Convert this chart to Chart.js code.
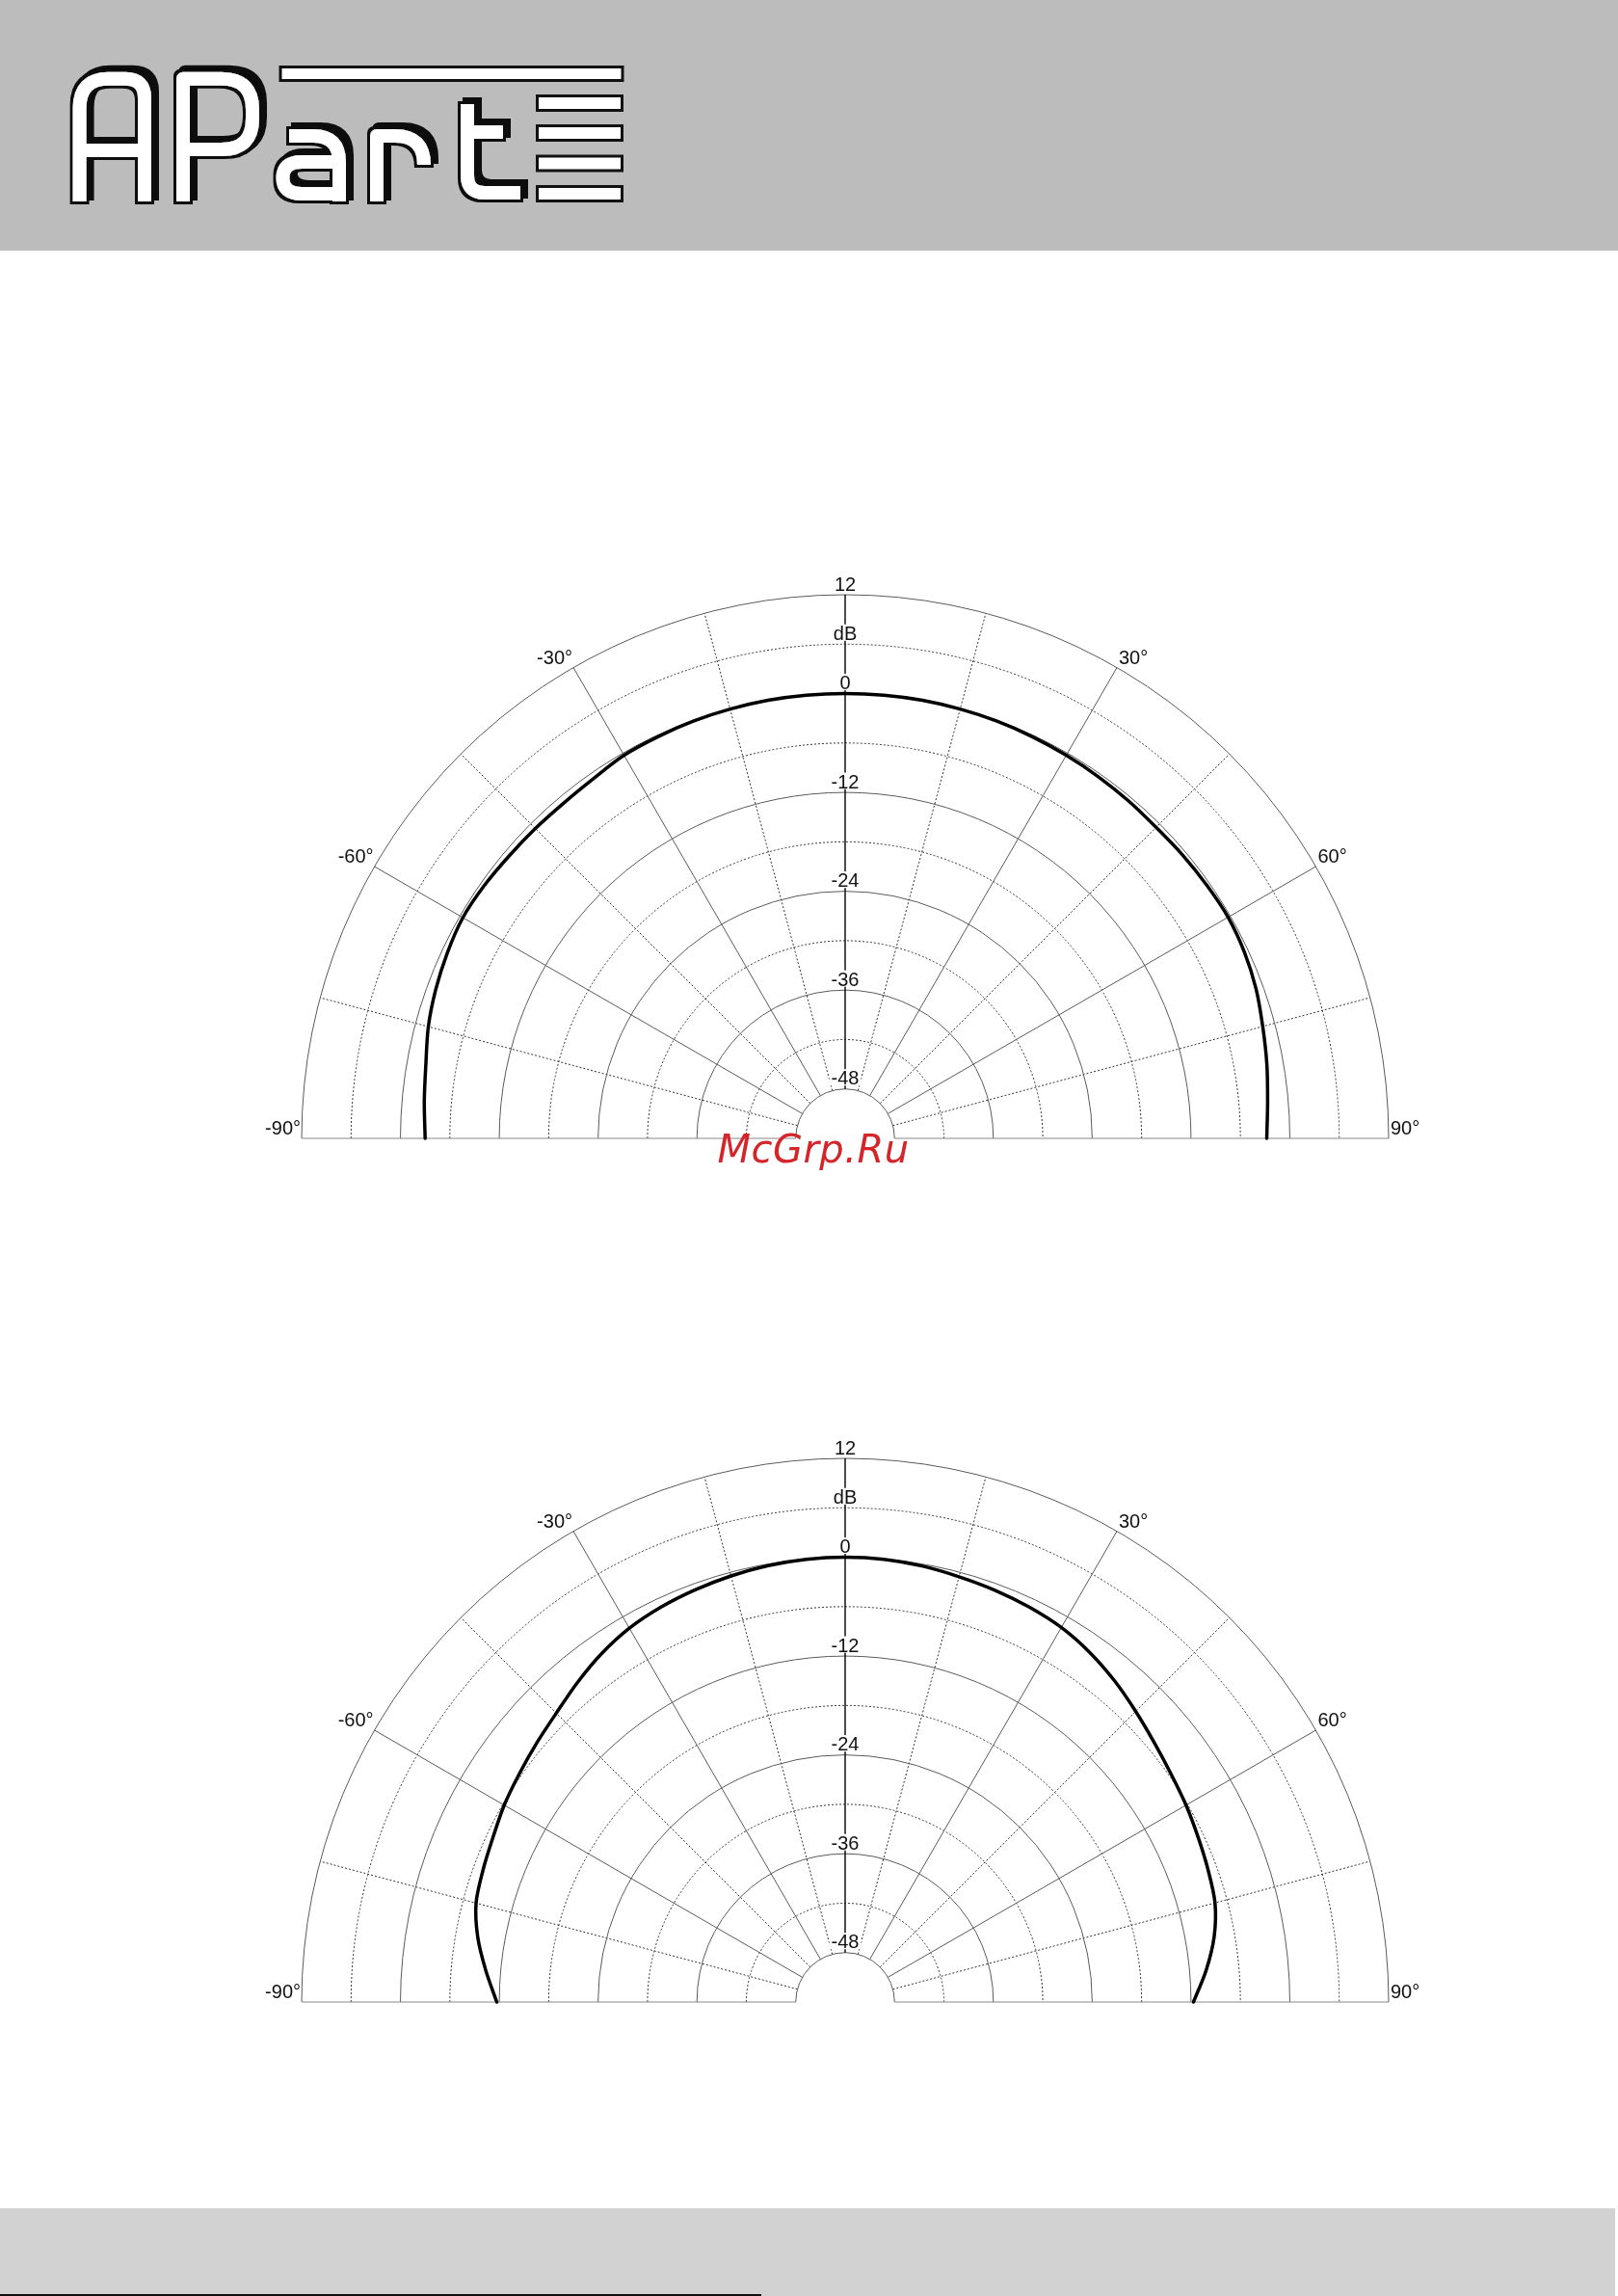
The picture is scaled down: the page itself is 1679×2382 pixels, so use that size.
<!DOCTYPE html>
<html>
<head>
<meta charset="utf-8">
<title>APart polar patterns</title>
<script src="https://cdn.jsdelivr.net/npm/chart.js@4.4.1/dist/chart.umd.min.js"></script>
<style>
    html, body { margin: 0; padding: 0; background: #fff; }
    body { width: 1679px; height: 2382px; position: relative; overflow: hidden; font-family: 'Liberation Sans', Arial, sans-serif; }
    .header { position: absolute; left: 0; top: 0; }
    .footer { position: absolute; left: 0; top: 2291px; width: 1676px; height: 91px; background: #d2d2d2; }
    .footer-line { position: absolute; left: 0; top: 2380px; width: 790px; height: 2px; background: #111; }
    .plot { position: absolute; left: 0; width: 1679px; height: 626px; overflow: hidden; }
    .watermark { position: absolute; left: 844px; top: 1172px; transform: translateX(-50%); font: italic 40px 'DejaVu Sans', sans-serif; line-height: 40px; letter-spacing: 0.5px; color: #d4252b; white-space: nowrap; z-index: 3; }
</style>
</head>
<body>

<svg class="header" width="1679" height="260">
    <rect x="0" y="0" width="1679" height="260" fill="#bcbcbc"/>
    <defs>
        <filter id="outline" x="-20%" y="-40%" width="140%" height="180%">
            <feMorphology in="SourceAlpha" operator="dilate" radius="3" result="grown"/>
            <feFlood flood-color="#111"/>
            <feComposite in2="grown" operator="in" result="edge"/>
            <feOffset in="edge" dx="5" dy="-4" result="shadow"/>
            <feMerge>
                <feMergeNode in="shadow"/>
                <feMergeNode in="edge"/>
                <feMergeNode in="SourceGraphic"/>
            </feMerge>
        </filter>
    </defs>
    <g filter="url(#outline)" fill="none" stroke="#fff" stroke-width="14" stroke-linejoin="round">
        <path d="M82.6,209 V112 Q82.6,81.8 112.6,81.8 H130 Q150,81.8 150,101.8 V209 M82.6,156 H150"/>
        <path d="M190,209 V81.8 H230 Q262,81.8 262,113.8 V123 Q262,155 230,155 H190"/>
        <path d="M300,141 H325 Q352,141 352,168 V209 M352,168 H313 Q293.5,168 293.5,184.5 Q293.5,201 313,201 H352"/>
        <path d="M391,209 V141 H410 Q440,141 440,171"/>
        <path d="M485,108 V182 Q485,200 503,200 H540 M485,137 H522"/>
    </g>
    <g fill="#fff" stroke="#111" stroke-width="3">
        <rect x="291" y="69.5" width="355" height="14"/>
        <rect x="557.5" y="99.5" width="88" height="15"/>
        <rect x="557.5" y="130.5" width="88" height="15"/>
        <rect x="557.5" y="162" width="88" height="15"/>
        <rect x="557.5" y="193.5" width="88" height="15"/>
    </g>
</svg>

<div class="plot" style="top:560px"><canvas id="polarTop" width="1679" height="1195"></canvas></div>
<div class="watermark">McGrp.Ru</div>
<div class="plot" style="top:1456px"><canvas id="polarBottom" width="1679" height="1195"></canvas></div>

<div class="footer"></div>
<div class="footer-line"></div>

<script>
const angles = [-90, -85, -80, -75, -70, -65, -60, -55, -50, -45, -40, -35, -30, -25, -20, -15, -10, -5, 0,
                5, 10, 15, 20, 25, 30, 35, 40, 45, 50, 55, 60, 65, 70, 75, 80, 85, 90];

const patternTop = [-3.0, -2.7, -2.3, -1.6, -1.1, -0.7, -0.4, -0.5, -0.7, -0.8, -0.85, -0.7, -0.3, -0.2, -0.1, -0.05, 0, 0, 0,
                    0, 0, -0.05, -0.1, -0.2, -0.3, -0.4, -0.5, -0.6, -0.5, -0.4, -0.3, -0.5, -0.9, -1.5, -2.0, -2.5, -2.8];

const patternBottom = [-11.7, -10.2, -8.7, -7.6, -7.2, -6.8, -6.2, -5.7, -5.1, -4.4, -3.4, -2.4, -1.6, -1.1, -0.75, -0.45, -0.2, -0.05, 0,
                       -0.05, -0.25, -0.55, -0.8, -1.1, -1.5, -2.2, -3.1, -4.1, -5.0, -5.7, -6.2, -6.7, -7.1, -7.5, -8.5, -10.0, -11.7];

const dbMin = -54;
const dbMax = 12;
const solidRings = [12, 0, -12, -24, -36, -48];
const dottedRings = [6, -6, -18, -30, -42];
const solidSpokes = [-60, -30, 30, 60];
const dottedSpokes = [-75, -45, -15, 15, 45, 75];
const ringLabelValues = [12, 6, 0, -12, -24, -36, -48];
const ringLabelTexts = ['12', 'dB', '0', '-12', '-24', '-36', '-48'];
const angleLabelValues = [-90, -60, -30, 30, 60, 90];

// radar needs the whole circle, the lower half stays empty
const circleAngles = [];
for (let a = -180; a < 180; a += 5) circleAngles.push(a);

function toCircle(values) {
    return circleAngles.map(a => {
        const i = angles.indexOf(a);
        return i >= 0 ? values[i] : null;
    });
}

function point(scale, angle, value) {
    return scale.getPointPosition(circleAngles.indexOf(angle), scale.getDistanceFromCenterForValue(value));
}

const polarGrid = {
    id: 'polarGrid',
    beforeDatasetsDraw(chart) {
        const ctx = chart.ctx;
        const s = chart.scales.r;
        const cx = s.xCenter, cy = s.yCenter;

        const spoke = (a) => {
            const p0 = point(s, a, -48);
            const p1 = point(s, a, 12);
            ctx.beginPath();
            ctx.moveTo(p0.x, p0.y);
            ctx.lineTo(p1.x, p1.y);
            ctx.stroke();
        };
        const ring = (v) => {
            ctx.beginPath();
            ctx.arc(cx, cy, s.getDistanceFromCenterForValue(v), Math.PI, 2 * Math.PI);
            ctx.stroke();
        };

        ctx.save();
        ctx.lineWidth = 1;
        ctx.strokeStyle = '#333';
        ctx.setLineDash([2, 2]);
        dottedRings.forEach(ring);
        dottedSpokes.forEach(spoke);

        ctx.setLineDash([]);
        ctx.strokeStyle = '#5a5a5a';
        solidRings.forEach(ring);
        solidSpokes.forEach(spoke);

        ctx.strokeStyle = '#888';
        spoke(-90);
        spoke(90);

        ctx.strokeStyle = '#000';
        ctx.lineWidth = 1.4;
        spoke(0);
        ctx.restore();
    },
    afterDatasetsDraw(chart) {
        const ctx = chart.ctx;
        const s = chart.scales.r;
        ctx.save();
        ctx.font = '20px "Liberation Sans", Arial, sans-serif';
        ctx.fillStyle = '#111';
        ctx.textBaseline = 'alphabetic';

        ctx.textAlign = 'center';
        ringLabelValues.forEach((v, i) => {
            const p = point(s, 0, v);
            const text = ringLabelTexts[i];
            const w = ctx.measureText(text).width;
            const base = p.y - 4.5;
            ctx.fillStyle = '#fff';
            ctx.fillRect(p.x - w / 2 - 2, base - 16, w + 4, 17);
            ctx.fillStyle = '#111';
            ctx.fillText(text, p.x, base);
        });

        angleLabelValues.forEach(a => {
            const p = point(s, a, 12);
            ctx.textAlign = a < 0 ? 'right' : 'left';
            ctx.fillText(a + '°', a < 0 ? p.x - 1 : p.x + 2, p.y - 4);
        });
        ctx.restore();
    }
};

function createPolarChart(canvasId, values) {
    const ctx = document.getElementById(canvasId).getContext('2d');
    return new Chart(ctx, {
        type: 'radar',
        data: {
            labels: circleAngles.map(String),
            datasets: [{
                data: toCircle(values),
                borderColor: '#000',
                borderWidth: 3.5,
                borderJoinStyle: 'round',
                borderCapStyle: 'round',
                pointRadius: 0,
                fill: false,
                tension: 0.3,
                spanGaps: false
            }]
        },
        options: {
            responsive: false,
            animation: false,
            events: [],
            layout: {
                padding: { top: 57, bottom: 10, left: 313, right: 238 }
            },
            plugins: {
                legend: { display: false },
                tooltip: { enabled: false }
            },
            scales: {
                r: {
                    min: dbMin,
                    max: dbMax,
                    startAngle: -180,
                    grid: { display: false },
                    angleLines: { display: false },
                    ticks: { display: false },
                    pointLabels: { display: false }
                }
            }
        },
        plugins: [polarGrid]
    });
}

createPolarChart('polarTop', patternTop);
createPolarChart('polarBottom', patternBottom);
</script>
</body>
</html>
